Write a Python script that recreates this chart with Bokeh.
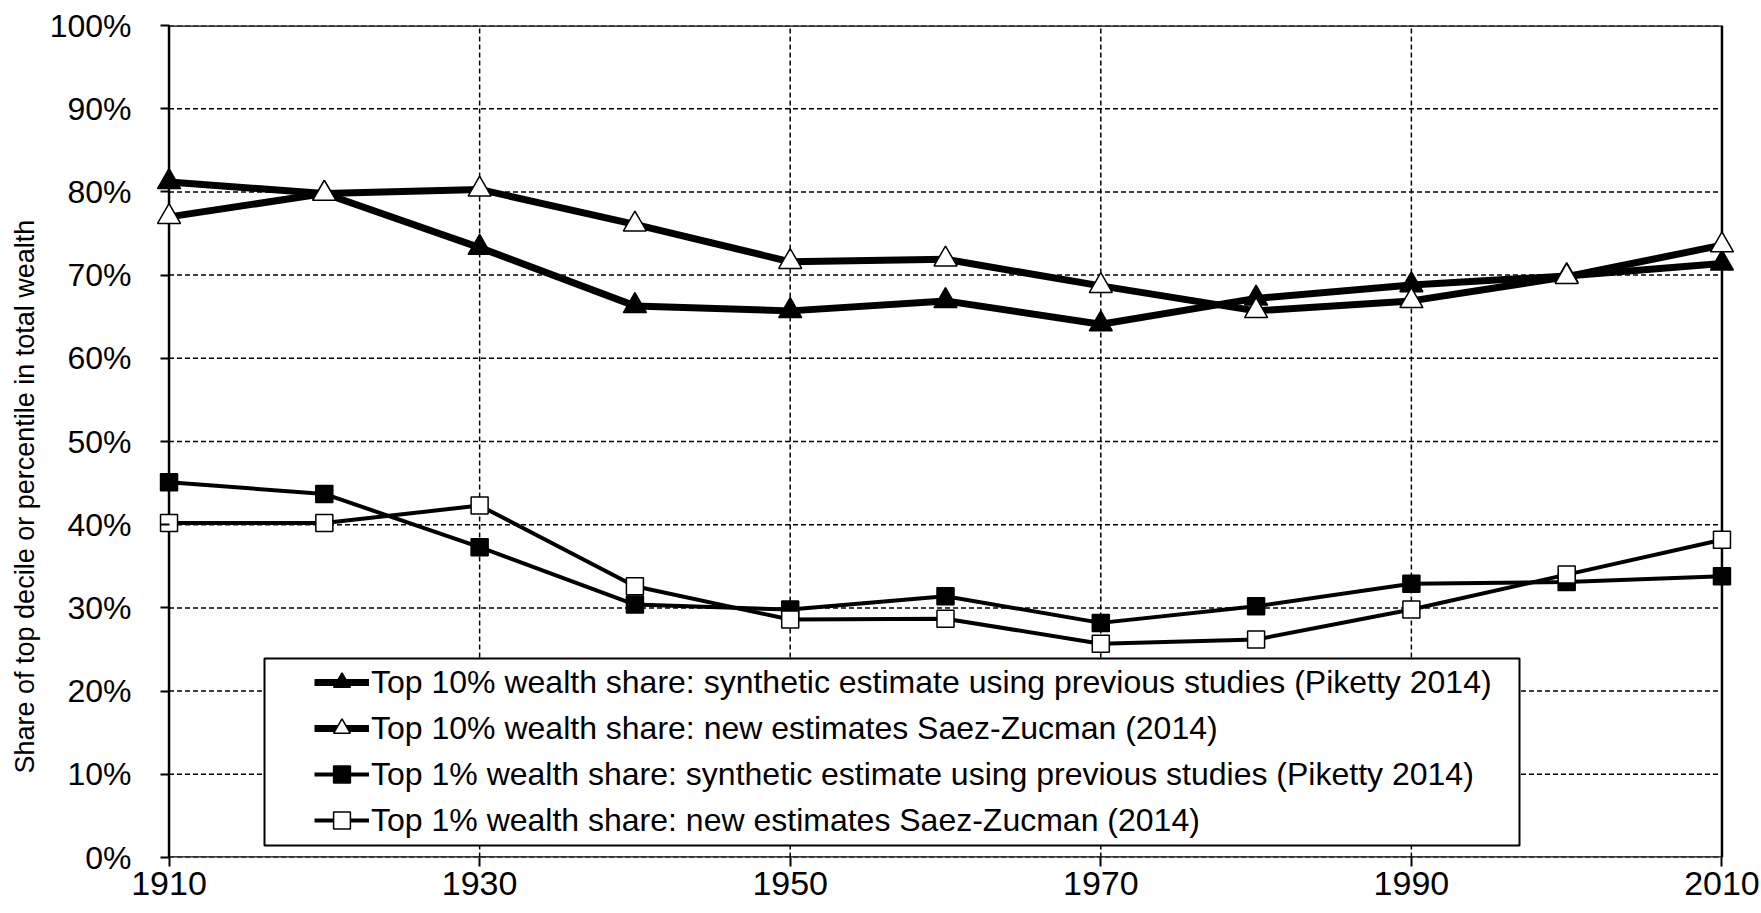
from bokeh.plotting import figure
from bokeh.models import (FixedTicker, PrintfTickFormatter, Legend, LegendItem,
                          BoxAnnotation, Title)
from bokeh.embed import file_html
from bokeh.resources import INLINE

# ---- data ----
years = [1910, 1920, 1930, 1940, 1950, 1960, 1970, 1980, 1990, 2000, 2010]
top10_piketty = [81.2, 79.8, 73.3, 66.3, 65.7, 66.9, 64.1, 67.2, 68.8, 69.9, 71.4]
top10_saez_zucman = [77.0, 79.8, 80.3, 76.1, 71.6, 71.9, 68.7, 65.7, 66.9, 69.8, 73.6]
top1_piketty = [45.1, 43.7, 37.3, 30.4, 29.8, 31.4, 28.2, 30.2, 32.9, 33.1, 33.8]
top1_saez_zucman = [40.2, 40.2, 42.3, 32.6, 28.6, 28.7, 25.7, 26.2, 29.8, 34.0, 38.2]

x_ticks = [1910, 1930, 1950, 1970, 1990, 2010]
y_ticks = [0, 10, 20, 30, 40, 50, 60, 70, 80, 90, 100]

legend_labels = [
    "Top 10% wealth share: synthetic estimate using previous studies (Piketty 2014)",
    "Top 10% wealth share: new estimates Saez-Zucman (2014)",
    "Top 1% wealth share: synthetic estimate using previous studies (Piketty 2014)",
    "Top 1% wealth share: new estimates Saez-Zucman (2014)",
]
y_axis_title = "Share of top decile or percentile in total wealth"

FONT = "Liberation Sans"
x_lo, x_hi = x_ticks[0], x_ticks[-1]
y_lo, y_hi = y_ticks[0], y_ticks[-1]

# a one-year margin on both sides so the end markers are not clipped
p = figure(width=1761, height=910, output_backend="svg", toolbar_location=None,
           x_range=(x_lo - 1, x_hi + 1), y_range=(y_lo, y_hi),
           min_border_left=150, min_border_right=24,
           min_border_top=25, min_border_bottom=53)

p.background_fill_color = "white"
p.border_fill_color = "white"
p.outline_line_color = None
p.xgrid.grid_line_color = None
p.ygrid.grid_line_color = None

# axes
for ax in (p.xaxis, p.yaxis):
    ax.axis_line_color = None
    ax.major_tick_line_color = "black"
    ax.major_tick_line_width = 2
    ax.minor_tick_line_color = None
    ax.minor_tick_in = 0
    ax.minor_tick_out = 0
    ax.major_label_text_color = "black"

p.xaxis.ticker = FixedTicker(ticks=x_ticks)
p.xaxis.major_tick_in = 0
p.xaxis.major_tick_out = 9
p.xaxis.major_label_text_font = FONT
p.xaxis.major_label_text_font_size = "34px"
p.xaxis.major_label_standoff = 5

# the frame edge sits one year left of 1910: ticks reach from 9px left of 1910 to 1910
p.yaxis.ticker = FixedTicker(ticks=y_ticks)
p.yaxis.formatter = PrintfTickFormatter(format="%d%%")
p.yaxis.major_tick_in = 16
p.yaxis.major_tick_out = -7
p.yaxis.major_label_text_font = FONT
p.yaxis.major_label_text_font_size = "32px"
p.yaxis.major_label_standoff = 22

# dashed grid, limited to the plotted span
n_x, n_y = len(x_ticks), len(y_ticks)
grid_style = dict(line_color="black", line_width=1.5, line_dash="5 3")
p.segment(x0=x_ticks, y0=[y_lo] * n_x, x1=x_ticks, y1=[y_hi] * n_x, **grid_style)
p.segment(x0=[x_lo] * n_y, y0=y_ticks, x1=[x_hi] * n_y, y1=y_ticks, **grid_style)

# solid frame around the plotted span
p.quad(left=[x_lo], right=[x_hi], bottom=[y_lo], top=[y_hi],
       fill_color=None, line_color="black", line_width=2.5)

# series
series = [
    (top10_piketty, "triangle", "black", 7, 23),
    (top10_saez_zucman, "triangle", "white", 7, 23),
    (top1_piketty, "square", "black", 4, 17),
    (top1_saez_zucman, "square", "white", 4, 17),
]
items = []
for (vals, marker, fill, lw, size), label in zip(series, legend_labels):
    rl = p.line(years, vals, line_color="black", line_width=lw)
    rm = p.scatter(years, vals, marker=marker, size=size, fill_color=fill,
                   line_color="black", line_width=1.5)
    items.append(LegendItem(label=label, renderers=[rl, rm]))

# legend frame
box = BoxAnnotation(left=111, right=1366, bottom=12, top=199,
                    left_units="screen", right_units="screen",
                    top_units="screen", bottom_units="screen",
                    fill_color="white", fill_alpha=1,
                    line_color="black", line_width=2, line_alpha=1)
p.add_layout(box)

legend = Legend(items=items, location=(156, 11), padding=5, spacing=4,
                glyph_width=55, glyph_height=42, label_height=42,
                label_standoff=2, label_text_font=FONT,
                label_text_font_size="32px", label_text_color="black",
                border_line_alpha=0, background_fill_alpha=0, margin=0)
p.add_layout(legend)

p.add_layout(Title(text=y_axis_title, align="left", offset=84,
                   text_font=FONT, text_font_size="27px",
                   text_font_style="normal", text_color="black",
                   standoff=14), "left")

open("out.html", "w").write(file_html(p, INLINE))
